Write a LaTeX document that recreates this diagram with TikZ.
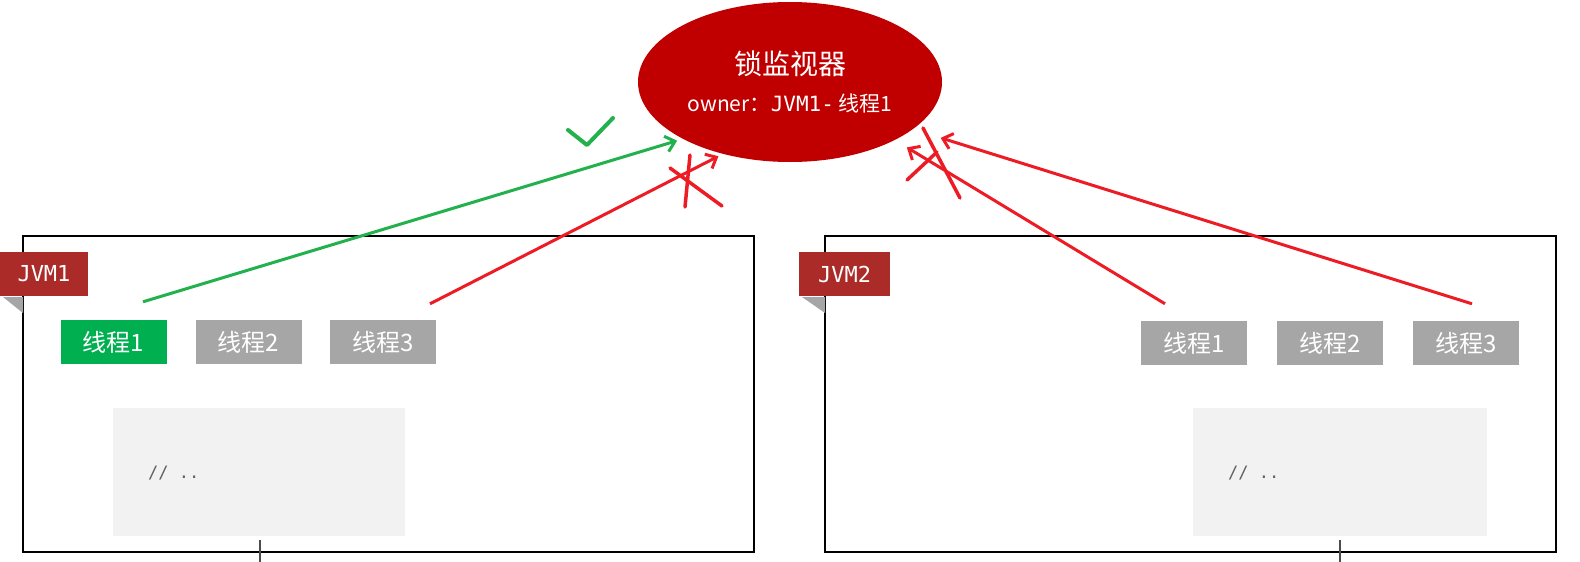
\documentclass[tikz,border=0pt]{standalone}
\usepackage{fontspec}
\setmainfont{Noto Sans CJK SC}
\setmonofont{DejaVu Sans Mono}
\usetikzlibrary{shapes.geometric,arrows.meta}

\definecolor{monred}{HTML}{C00000}
\definecolor{tagred}{HTML}{AB2B28}
\definecolor{okgreen}{HTML}{00B050}
\definecolor{okline}{HTML}{22B14C}
\definecolor{noline}{HTML}{ED1C24}
\definecolor{idlegray}{HTML}{A6A6A6}
\definecolor{codebg}{HTML}{F2F2F2}
\definecolor{codegray}{HTML}{606060}

\begin{document}
\begin{tikzpicture}[x=1pt,y=-1pt,
    jvmbox/.style={draw=black, line width=1.5pt, inner sep=0pt, minimum width=731pt, minimum height=316pt},
    tag/.style={fill=tagred, text=white, inner sep=0pt, minimum width=88pt, minimum height=44pt, font=\ttfamily\fontsize{22}{22}\selectfont},
    thread/.style={fill=idlegray, text=white, inner sep=0pt, minimum width=106pt, minimum height=44pt, font=\fontsize{24}{24}\selectfont},
    codebox/.style={fill=codebg, inner sep=0pt, minimum width=292pt, minimum height=128pt},
    code/.style={anchor=west, text=codegray, inner sep=0pt, font=\ttfamily\fontsize{17}{17}\selectfont},
    okarrow/.style={draw=okline, line width=3pt, -{Straight Barb[length=9pt,width=16pt]}},
    noarrow/.style={draw=noline, line width=3pt, -{Straight Barb[length=9pt,width=16pt]}},
    crossline/.style={draw=noline, line width=3.5pt, line cap=round},
    tickline/.style={draw=gray!60!black, line width=1.2pt}]
    \useasboundingbox (0,0) rectangle (1580,562);

    % monitor
    \node[ellipse, fill=monred, text=white, inner sep=0pt, minimum width=304pt, minimum height=160pt, align=center] (mon) at (790,82)
        {{\fontsize{28}{28}\selectfont 锁监视器}\\[16pt]{\fontsize{21}{21}\selectfont owner：\texttt{JVM1-} 线程1}};

    % 1. JVM1
    \node[jvmbox] (jvm1) at (388.5,394) {};
    \fill[idlegray] (3,297) -- (23,297) -- (23,313) -- cycle;
    \node[tag] (tag1) at (44,274) {JVM1};
    \node[thread, fill=okgreen] (lt1) at (113.5,342) {线程1};
    \node[thread] (lt2) at (248.5,342) {线程2};
    \node[thread] (lt3) at (383,342) {线程3};
    \node[codebox] (lcode) at (258.5,472) {};
    \node[code] (ltext) at (148,473) {// ..};
    \draw[tickline] (260,540) -- (260,562);

    % 2. JVM2
    \node[jvmbox] (jvm2) at (1190.5,394) {};
    \fill[idlegray] (802,297) -- (825,297) -- (825,313) -- cycle;
    \node[tag, minimum width=91pt] (tag2) at (844.5,274) {JVM2};
    \node[thread] (rt1) at (1194,343) {线程1};
    \node[thread] (rt2) at (1330,343) {线程2};
    \node[thread] (rt3) at (1466,343) {线程3};
    \node[codebox, minimum width=294pt] (rcode) at (1340,472) {};
    \node[code] (rtext) at (1228,473) {// ..};
    \draw[tickline] (1340,540) -- (1340,562);

    % arrows
    \draw[okarrow, shorten >=6pt] ([shift={(29.5,-18)}]lt1.north) -- (mon.208);
    \draw[noarrow, shorten >=5pt] ([shift={(47,-16)}]lt3.north) -- (mon.227);
    \draw[noarrow, shorten >=14pt] ([shift={(-29,-17)}]rt1.north) -- (mon.331);
    \draw[noarrow, shorten >=29pt] ([shift={(6,-17)}]rt3.north) -- (mon.339);

    % marks
    \draw[draw=okline, line width=4pt, line cap=round, line join=round] (568,130) -- (587,145) -- (613,118);
    \draw[crossline] (690,155) -- (685,207);
    \draw[crossline] (670,168) -- (722,206);
    \draw[crossline] (923,128) -- (960,198);
    \draw[crossline] (907,180) -- (937,152);
\end{tikzpicture}
\end{document}
